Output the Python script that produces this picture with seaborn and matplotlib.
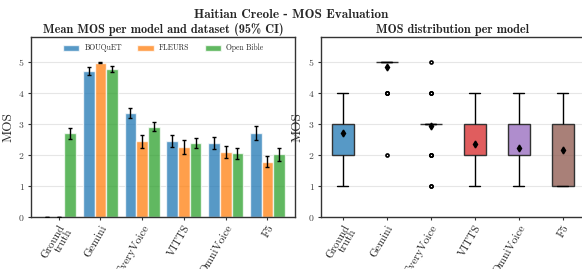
import numpy as np
import pandas as pd
import seaborn as sns
import matplotlib.pyplot as plt
from matplotlib.colors import to_rgba

# ---------------- data ----------------
models = ["Ground\ntruth", "Gemini", "EveryVoice", "VITTS", "OmniVoice", "F5"]
datasets = ["BOUQuET", "FLEURS", "Open Bible"]
mean_bouquet = [0.0, 4.72, 3.36, 2.45, 2.39, 2.71]
mean_fleurs = [0.0, 4.98, 2.44, 2.26, 2.10, 1.79]
mean_bible = [2.70, 4.78, 2.91, 2.39, 2.06, 2.03]
ci_bouquet = [0.0, 0.13, 0.16, 0.18, 0.20, 0.22]
ci_fleurs = [0.0, 0.02, 0.20, 0.22, 0.18, 0.18]
ci_bible = [0.17, 0.09, 0.15, 0.17, 0.18, 0.21]

# rating counts (scores 1..5) per model, for the distribution panel
scores = [1, 2, 3, 4, 5]
counts_gt = [1, 6, 11, 2, 0]
counts_gemini = [0, 1, 0, 4, 35]
counts_everyvoice = [2, 4, 30, 3, 1]
counts_vitts = [4, 14, 9, 3, 0]
counts_omnivoice = [5, 16, 6, 3, 0]
counts_f5 = [10, 8, 9, 3, 0]

# ---------------- style ----------------
sns.set_theme(style="whitegrid")
plt.rcParams["font.family"] = ["cmr10", "DejaVu Serif"]
plt.rcParams["axes.formatter.use_mathtext"] = True
plt.rcParams["mathtext.fontset"] = "cm"

bar_df = pd.DataFrame({
    "model": np.repeat(models, 3),
    "dataset": datasets * len(models),
    "mos": np.array([mean_bouquet, mean_fleurs, mean_bible]).T.ravel(),
    "ci": np.array([ci_bouquet, ci_fleurs, ci_bible]).T.ravel(),
})

all_counts = [counts_gt, counts_gemini, counts_everyvoice, counts_vitts,
              counts_omnivoice, counts_f5]
rows = []
for m, c in zip(models, all_counts):
    for s, n in zip(scores, c):
        rows += [(m, s)] * n
box_df = pd.DataFrame(rows, columns=["model", "score"])

tab = sns.color_palette("tab10")
bar_pal = {"BOUQuET": tab[0], "FLEURS": tab[1], "Open Bible": tab[2]}
box_pal = [tab[0], tab[1], tab[2], tab[3], tab[4], tab[5]]

fig = plt.figure(figsize=(5.82, 2.69), dpi=100)
ax1 = fig.add_axes([0.0533, 0.193, 0.4536, 0.669])
ax2 = fig.add_axes([0.5515, 0.193, 0.4536, 0.669])

spine_col = "#333333"
for ax in (ax1, ax2):
    for sp in ax.spines.values():
        sp.set_color(spine_col)
        sp.set_linewidth(1.0)
    ax.grid(axis="y", color="#e6e6e6", linewidth=0.8)
    ax.grid(axis="x", visible=False)
    ax.tick_params(axis="both", which="both", length=2.5, width=0.8,
                   color=spine_col, pad=2, labelsize=7, bottom=True, left=True)

# ---------------- left: bars ----------------
sns.barplot(data=bar_df, x="model", y="mos", hue="dataset", palette=bar_pal,
            errorbar=None, width=0.84, saturation=1, alpha=0.75, ax=ax1,
            zorder=2)
bars = [p for p in ax1.patches if p.get_width() > 0 and p.get_height() >= 0][:18]
for i, p in enumerate(bars):
    hi, mi = divmod(i, len(models))
    val = [mean_bouquet, mean_fleurs, mean_bible][hi][mi]
    ci = [ci_bouquet, ci_fleurs, ci_bible][hi][mi]
    xc = p.get_x() + p.get_width() / 2
    ax1.errorbar(xc, val, yerr=ci, color="black", capsize=1.6, elinewidth=1.0,
                 capthick=1.0, zorder=5)
ax1.set_ylim(0, 5.8)
ax1.set_xlim(-0.66, 5.66)
ax1.set_yticks([0, 1, 2, 3, 4, 5])
ax1.set_xlabel("")
ax1.set_ylabel("MOS", fontsize=9.5, labelpad=3)
ax1.set_title("Mean MOS per model and dataset (95% CI)", fontsize=8.8,
              family=["cmb10", "DejaVu Serif"], pad=3)
leg = ax1.legend(loc="upper center", ncol=3, frameon=False, fontsize=5.5,
                 handlelength=2.2, handleheight=0.9, handletextpad=0.65,
                 columnspacing=2.0, bbox_to_anchor=(0.5, 1.0),
                 borderaxespad=0.5)
ax1.set_xticks(range(len(models)))
ax1.set_xticklabels(models, rotation=60, ha="right", rotation_mode="anchor",
                    fontsize=8, linespacing=0.85)

# ---------------- right: boxes ----------------
sns.boxplot(data=box_df, x="model", y="score", hue="model", palette=box_pal,
            legend=False, width=0.5, linewidth=1.0, linecolor="#333333",
            saturation=1, showmeans=True, fliersize=2.2, ax=ax2,
            meanprops=dict(marker="d", markerfacecolor="black",
                           markeredgecolor="black", markersize=3.5),
            medianprops=dict(linewidth=0),
            flierprops=dict(marker="o", markerfacecolor="white",
                            markeredgecolor="black", markeredgewidth=1.2),
            whiskerprops=dict(color="black"), capprops=dict(color="black"))
for p in ax2.patches:
    fc = p.get_facecolor()
    p.set_facecolor(to_rgba(fc[:3], 0.75))
ax2.set_ylim(0, 5.8)
ax2.set_xlim(-0.5, 5.5)
ax2.set_yticks([0, 1, 2, 3, 4, 5])
ax2.set_xlabel("")
ax2.set_ylabel("MOS", fontsize=9.5, labelpad=3)
ax2.set_title("MOS distribution per model", fontsize=8.8,
              family=["cmb10", "DejaVu Serif"], pad=3)
ax2.set_xticks(range(len(models)))
ax2.set_xticklabels(models, rotation=60, ha="right", rotation_mode="anchor",
                    fontsize=8, linespacing=0.85)

for ax in (ax1, ax2):
    for lab in ax.get_yticklabels():
        lab.set_color("#444444")

fig.suptitle("Haitian Creole - MOS Evaluation", fontsize=9.5,
             family=["cmb10", "DejaVu Serif"], y=0.965)

fig.savefig("out.png", dpi=100)
